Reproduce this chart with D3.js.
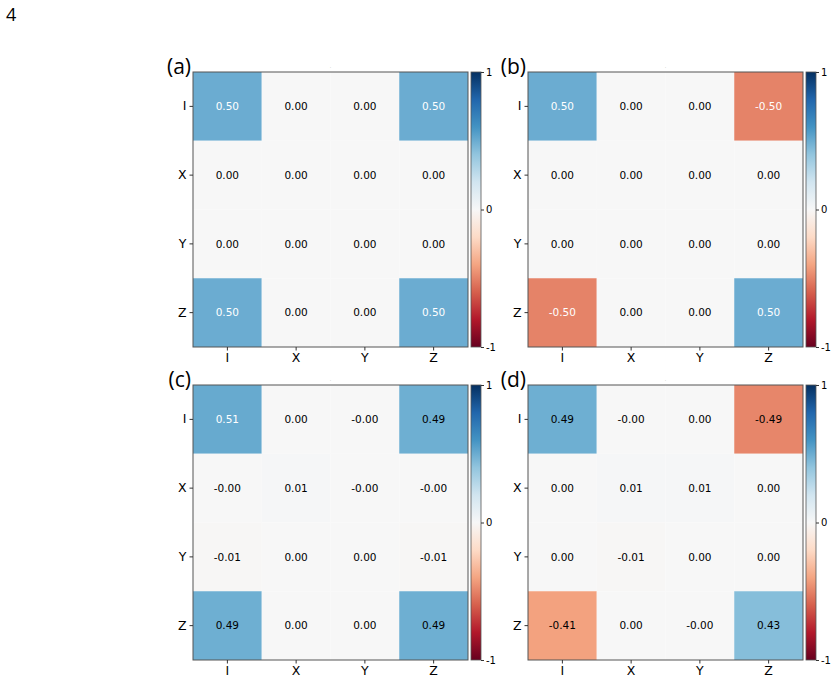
<!DOCTYPE html>
<html>
<head>
<meta charset="utf-8">
<script src="https://cdn.jsdelivr.net/npm/d3@7"></script>
<style>
  body { margin: 0; background: #fff; }
  svg { display: block; }
</style>
</head>
<body>
<script>
// Pauli basis labels
var paulis = ['I', 'X', 'Y', 'Z'];

var panelNames = ['(a)', '(b)', '(c)', '(d)'];

// -0.001 stands for cells printed as "-0.00"
var matA = [
  [0.50, 0.00, 0.00, 0.50],
  [0.00, 0.00, 0.00, 0.00],
  [0.00, 0.00, 0.00, 0.00],
  [0.50, 0.00, 0.00, 0.50]
];
var matB = [
  [0.50, 0.00, 0.00, -0.50],
  [0.00, 0.00, 0.00, 0.00],
  [0.00, 0.00, 0.00, 0.00],
  [-0.50, 0.00, 0.00, 0.50]
];
var matC = [
  [0.51, 0.00, -0.001, 0.49],
  [-0.001, 0.01, -0.001, -0.001],
  [-0.01, 0.00, 0.00, -0.01],
  [0.49, 0.00, 0.00, 0.49]
];
var matD = [
  [0.49, -0.001, 0.00, -0.49],
  [0.00, 0.01, 0.01, 0.00],
  [0.00, -0.01, 0.00, 0.00],
  [-0.41, 0.00, -0.001, 0.43]
];

var cbTicks = [-1, 0, 1];

// RdBu anchors, linearly interpolated like matplotlib does
var rdbu = ['#67001f', '#b2182b', '#d6604d', '#f4a582', '#fddbc7', '#f7f7f7',
            '#d1e5f0', '#92c5de', '#4393c3', '#2166ac', '#053061'];

var W = 837, H = 683;
var size = 275;
var origins = [[193, 72], [528, 72], [193, 385], [528, 385]];
var mats = [matA, matB, matC, matD];

var svg = d3.select('body').append('svg')
  .attr('width', W)
  .attr('height', H);

svg.append('text')
  .attr('x', 6).attr('y', 21)
  .attr('font-family', 'Open Sans, sans-serif')
  .attr('font-size', 18)
  .text('4');

var color = d3.scaleLinear()
  .domain(rdbu.map(function(c, i) { return -1 + 2 * i / (rdbu.length - 1); }))
  .range(rdbu)
  .interpolate(d3.interpolateRgb)
  .clamp(true);

// gradient for colorbars
var grad = svg.append('defs').append('linearGradient')
  .attr('id', 'rdbu')
  .attr('x1', 0).attr('y1', 1).attr('x2', 0).attr('y2', 0);
rdbu.forEach(function(c, i) {
  grad.append('stop')
    .attr('offset', i / (rdbu.length - 1))
    .attr('stop-color', c);
});

var x = d3.scaleBand().domain(paulis).range([0, size]);
var y = d3.scaleBand().domain(paulis).range([0, size]);
var cbY = d3.scaleLinear().domain([-1, 1]).range([size, 0]);

function fmt(v) { return v.toFixed(2); }

mats.forEach(function(mat, k) {
  var g = svg.append('g')
    .attr('transform', translation(origins[k][0], origins[k][1]));

  var cells = [];
  mat.forEach(function(row, i) {
    row.forEach(function(v, j) {
      cells.push({ r: paulis[i], c: paulis[j], v: v });
    });
  });

  g.selectAll('.cell')
    .data(cells)
    .enter()
    .append('rect')
      .attr('x', function(d) { return x(d.c); })
      .attr('y', function(d) { return y(d.r); })
      .attr('width', x.bandwidth())
      .attr('height', y.bandwidth())
      .attr('fill', function(d) { return color(d.v); });

  g.selectAll('.val')
    .data(cells)
    .enter()
    .append('text')
      .attr('x', function(d) { return x(d.c) + x.bandwidth() / 2; })
      .attr('y', function(d) { return y(d.r) + y.bandwidth() / 2; })
      .attr('dy', '0.35em')
      .attr('text-anchor', 'middle')
      .attr('font-family', 'DejaVu Sans, sans-serif')
      .attr('font-size', 10.5)
      .attr('fill', function(d) { return Math.abs(d.v) >= 0.5 ? '#fff' : '#000'; })
      .text(function(d) { return fmt(d.v); });

  // frame
  g.append('rect')
    .attr('width', size).attr('height', size)
    .attr('fill', 'none')
    .attr('stroke', '#555')
    .attr('stroke-width', 1);

  var ay = g.append('g').call(d3.axisLeft(y).tickSize(3.5).tickPadding(3));
  var ax = g.append('g').attr('transform', translation(0, size))
    .call(d3.axisBottom(x).tickSize(3.5).tickPadding(3));
  [ax, ay].forEach(function(a) {
    a.select('.domain').remove();
    a.selectAll('line').attr('stroke', '#333');
    a.selectAll('text')
      .attr('font-family', 'DejaVu Sans, sans-serif')
      .attr('font-size', 12.5)
      .attr('fill', '#000');
  });

  // tiny empty title mark
  g.append('text')
    .attr('x', size / 2).attr('y', -4)
    .attr('text-anchor', 'middle')
    .attr('font-size', 4)
    .attr('fill', '#888')
    .text('.');

  g.append('text')
    .attr('x', -2).attr('y', 2)
    .attr('text-anchor', 'end')
    .attr('font-family', 'Open Sans, sans-serif')
    .attr('font-size', 21)
    .text(panelNames[k]);

  // colorbar
  var cb = g.append('g').attr('transform', translation(278, 0));
  cb.append('rect')
    .attr('width', 10).attr('height', size)
    .attr('fill', 'url(#rdbu)')
    .attr('stroke', '#555')
    .attr('stroke-width', 0.8);
  var cba = cb.append('g').attr('transform', translation(10, 0))
    .call(d3.axisRight(cbY).tickValues(cbTicks).tickSize(3).tickPadding(2)
      .tickFormat(function(d) { return d < 0 ? '-' + Math.abs(d) : String(d); }));
  cba.select('.domain').remove();
  cba.selectAll('line').attr('stroke', '#333');
  cba.selectAll('text')
    .attr('font-family', 'DejaVu Sans, sans-serif')
    .attr('font-size', 10)
    .attr('fill', '#000');
});

function translation(tx, ty) {
  return 'translate(' + tx + ',' + ty + ')';
}
</script>
</body>
</html>
